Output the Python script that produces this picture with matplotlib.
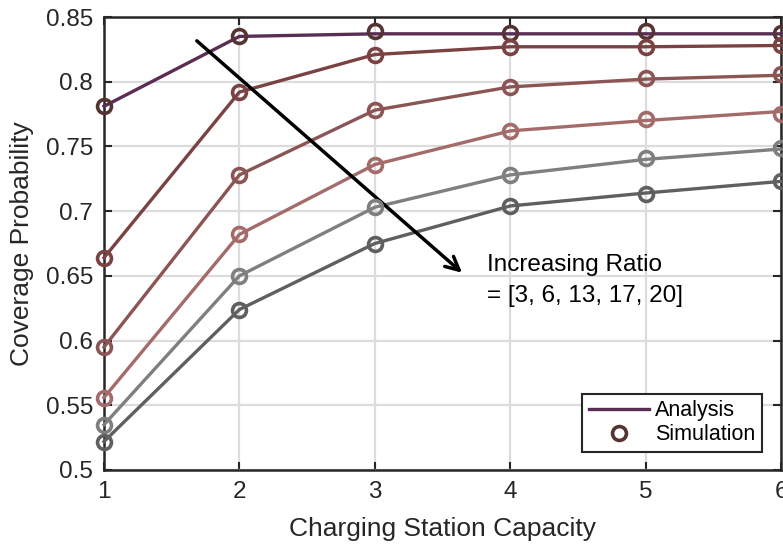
import numpy as np
import matplotlib.pyplot as plt

plt.rcParams['font.family'] = ['Liberation Sans', 'DejaVu Sans']

capacity = [1, 2, 3, 4, 5, 6]

# 解析结果 (ratio = 3, 6, 13, 17, 20 以及基准)
analysis = [
    [0.781, 0.835, 0.837, 0.837, 0.837, 0.837],
    [0.664, 0.792, 0.821, 0.827, 0.827, 0.828],
    [0.595, 0.728, 0.778, 0.796, 0.802, 0.805],
    [0.556, 0.682, 0.736, 0.762, 0.770, 0.777],
    [0.535, 0.650, 0.703, 0.728, 0.740, 0.748],
    [0.522, 0.624, 0.675, 0.704, 0.714, 0.723],
]

# 仿真结果
simulation = [
    [0.781, 0.835, 0.839, 0.838, 0.839, 0.838],
    [0.664, 0.792, 0.821, 0.827, 0.827, 0.828],
    [0.595, 0.728, 0.778, 0.796, 0.803, 0.806],
    [0.556, 0.682, 0.736, 0.762, 0.771, 0.775],
    [0.535, 0.650, 0.703, 0.728, 0.741, 0.749],
    [0.522, 0.624, 0.675, 0.704, 0.713, 0.723],
]

line_colors = ['#5a2d55', '#7a4242', '#8c5555', '#a46b6b', '#7f7f7f', '#5f5f5f']
marker_colors = ['#553333', '#7a4242', '#8c5555', '#a46b6b', '#7f7f7f', '#5f5f5f']

fig = plt.figure(figsize=(7.83, 5.45), dpi=100)
ax = fig.add_axes([104 / 783, 75 / 545, 677 / 783, 453 / 545])

for i in range(len(analysis)):
    ax.plot(capacity, analysis[i], color=line_colors[i], lw=2.4, clip_on=False, zorder=3)
    ax.plot(capacity, simulation[i], 'o', color=marker_colors[i], mfc='none',
            ms=10, mew=2.6, clip_on=False, zorder=4)

# 图例
ax.plot([], [], color=line_colors[0], lw=2.4, label='Analysis')
ax.plot([], [], 'o', color=marker_colors[0], mfc='none', ms=10, mew=2.6, label='Simulation')
h, l = ax.get_legend_handles_labels()
leg = ax.legend(h[-2:], l[-2:], loc='lower right', fontsize=15.5, fancybox=False,
                framealpha=1, edgecolor='#262626', borderpad=0.3, handlelength=2.8,
                handletextpad=0.3, labelspacing=0.15, borderaxespad=0,
                bbox_to_anchor=(0.972, 0.04))
leg.get_frame().set_linewidth(1.5)

# 箭头和注释
ax.annotate('', xy=(3.66, 0.651), xytext=(1.67, 0.833),
            arrowprops=dict(arrowstyle='->', color='black', lw=2.5, mutation_scale=24))
ax.text(3.83, 0.6585, 'Increasing Ratio', fontsize=17.5, va='center', ha='left')
ax.text(3.83, 0.6345, '= [3, 6, 13, 17, 20]', fontsize=17.5, va='center', ha='left')

ax.set_xlim(1, 6)
ax.set_ylim(0.5, 0.85)
ax.set_xticks(capacity)
ax.set_yticks([0.5, 0.55, 0.6, 0.65, 0.7, 0.75, 0.8, 0.85])
ax.set_yticklabels(['0.5', '0.55', '0.6', '0.65', '0.7', '0.75', '0.8', '0.85'])
ax.grid(True, color='#dcdcdc', lw=1.6)
ax.set_axisbelow(True)
ax.tick_params(direction='in', top=True, right=True, length=6, width=1.5,
               labelsize=17.5, colors='#262626', pad=8)
for s in ax.spines.values():
    s.set_linewidth(1.8)
    s.set_color('#262626')

ax.set_xlabel('Charging Station Capacity', fontsize=19, color='#262626', labelpad=10)
ax.set_ylabel('Coverage Probability', fontsize=19, color='#262626', labelpad=8)

fig.savefig('out.png', dpi=100)
